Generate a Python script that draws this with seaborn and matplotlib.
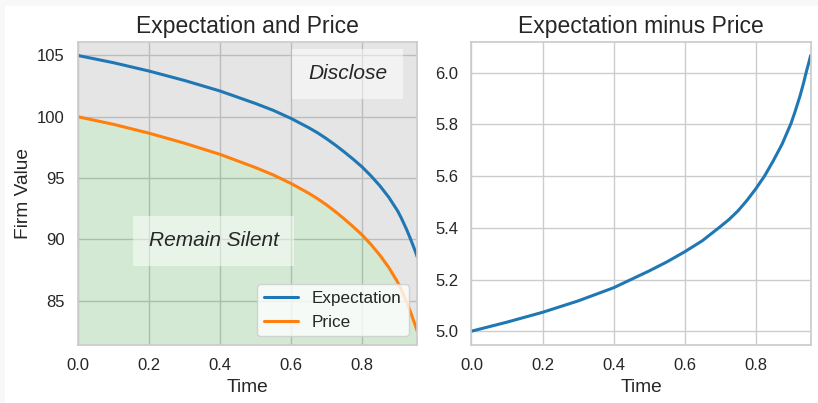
import matplotlib.pyplot as plt
import pandas as pd
import seaborn as sns
from matplotlib.patches import Rectangle

# values
TIME = [0.0, 0.1, 0.2, 0.3, 0.4, 0.5, 0.55, 0.6, 0.65, 0.675, 0.7,
        0.725, 0.75, 0.775, 0.8, 0.825, 0.85, 0.875, 0.9, 0.91, 0.925,
        0.935, 0.94, 0.945, 0.95, 0.955]
EXPECTATION = [105.00, 104.41, 103.73, 102.96, 102.10, 101.08, 100.52,
               99.86, 99.10, 98.68, 98.20, 97.68, 97.12, 96.53, 95.90,
               95.17, 94.36, 93.43, 92.31, 91.75, 90.81, 90.11, 89.74,
               89.37, 88.99, 88.57]
PRICE = [100.00, 99.38, 98.66, 97.84, 96.93, 95.85, 95.25, 94.55, 93.75,
         93.30, 92.80, 92.25, 91.65, 91.02, 90.35, 89.57, 88.70, 87.70,
         86.50, 85.90, 84.90, 84.15, 83.75, 83.35, 82.95, 82.50]
DIFFERENCE = [5.000, 5.035, 5.073, 5.117, 5.168, 5.233, 5.268, 5.307,
              5.350, 5.377, 5.404, 5.432, 5.465, 5.505, 5.550, 5.600,
              5.660, 5.725, 5.805, 5.845, 5.910, 5.960, 5.988, 6.015,
              6.040, 6.067]

BLUE = "#1f77b4"
ORANGE = "#ff7f0e"


def main() -> None:
    sns.set_theme(style="whitegrid", context="notebook")
    plt.rcParams["font.family"] = ["Liberation Sans", "DejaVu Sans"]
    df = pd.DataFrame({
        "time": TIME, "expectation": EXPECTATION,
        "price": PRICE, "difference": DIFFERENCE,
    })

    fig, (ax1, ax2) = plt.subplots(1, 2, figsize=(8.18, 4.03), dpi=100)
    fig.subplots_adjust(left=0.0954, right=0.991, bottom=0.144,
                        top=0.8965, wspace=0.16)
    # faint frame seen at the top/left of the reference
    fig.patch.set_facecolor("#f8f8f8")
    fig.patches.append(Rectangle((5 / 818, 0), 1, 1 - 6 / 403,
                                 transform=fig.transFigure,
                                 facecolor="white", edgecolor="none",
                                 zorder=-10))

    sns.lineplot(data=df, x="time", y="expectation", ax=ax1, color=BLUE,
                 linewidth=2.2, label="Expectation")
    sns.lineplot(data=df, x="time", y="price", ax=ax1, color=ORANGE,
                 linewidth=2.2, label="Price")
    ax1.set_xlim(df["time"].min(), df["time"].max())
    ymin, ymax = ax1.get_ylim()
    ax1.fill_between(df["time"], ymin, df["price"], color="green",
                     alpha=0.17, linewidth=0)
    ax1.fill_between(df["time"], df["price"], ymax, color="gray",
                     alpha=0.2, linewidth=0)
    ax1.set_ylim(ymin, ymax)

    box = dict(boxstyle="square,pad=0.75", facecolor="white",
               edgecolor="none", alpha=0.5)
    ax1.text(0.40, 0.343, "Remain Silent", transform=ax1.transAxes,
             ha="center", va="center", fontsize=15, style="italic",
             bbox=box)
    ax1.text(0.795, 0.894, "Disclose", transform=ax1.transAxes,
             ha="center", va="center", fontsize=15, style="italic",
             bbox=box)

    ax1.set_title("Expectation and Price", fontsize=16.5)
    ax1.set_xlabel("Time", fontsize=13.8)
    ax1.set_ylabel("Firm Value", fontsize=13.8)
    ax1.legend(loc="lower right", fontsize=12.3)

    sns.lineplot(data=df, x="time", y="difference", ax=ax2, color=BLUE,
                 linewidth=2.2)
    ax2.set_xlim(df["time"].min(), df["time"].max())
    ax2.set_title("Expectation minus Price", fontsize=16.5)
    ax2.set_xlabel("Time", fontsize=13.8)
    ax2.set_ylabel("")

    for ax in (ax1, ax2):
        ax.tick_params(labelsize=12)

    fig.savefig("out.png", dpi=100, facecolor=fig.get_facecolor())


if __name__ == "__main__":
    main()
